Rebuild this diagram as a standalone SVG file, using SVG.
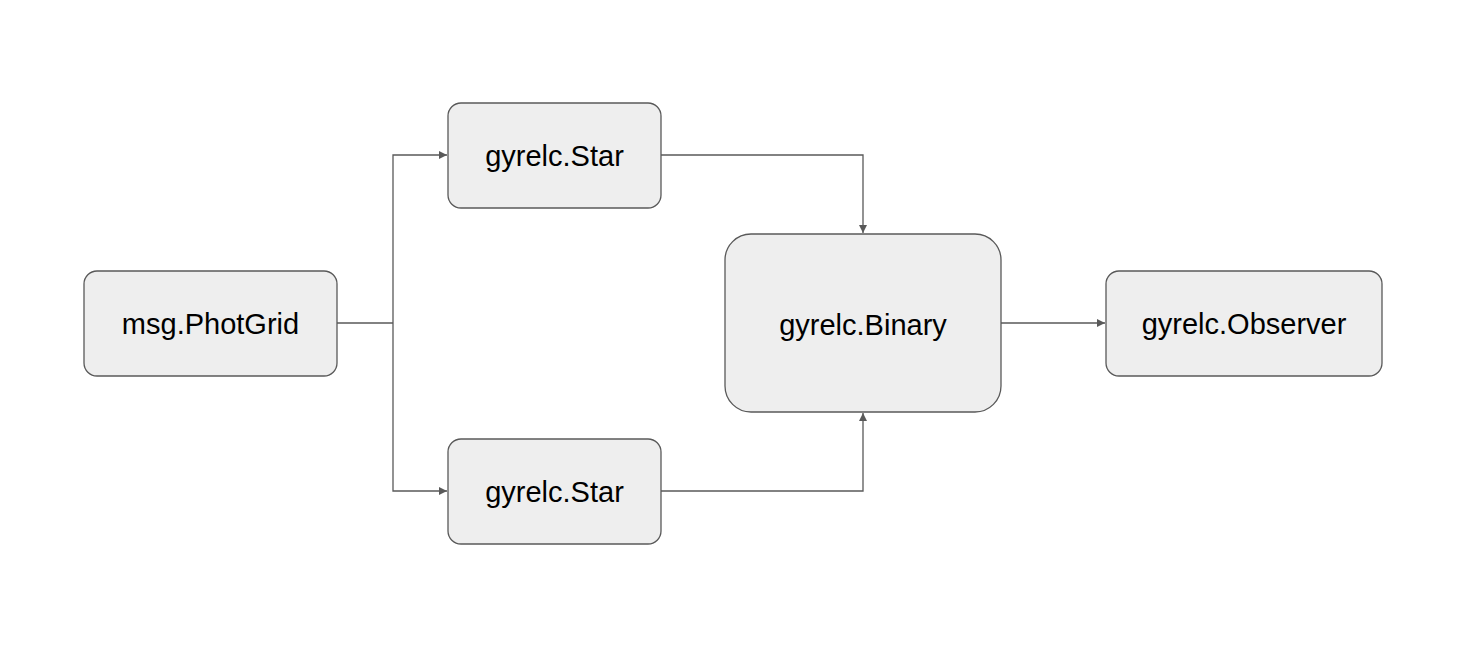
<svg xmlns="http://www.w3.org/2000/svg" width="1470" height="650" viewBox="0 0 1470 650">
<defs>
<style>
.node rect{fill:#eeeeee;stroke:#595959;stroke-width:1.3}
.node text{font-family:"Liberation Sans",Arial,sans-serif;font-size:29px;fill:#000;text-anchor:middle;dominant-baseline:central}
.edge{fill:none;stroke:#595959;stroke-width:1.3}
</style>
<marker id="arr" viewBox="0 0 10 10" refX="10" refY="5" markerWidth="10" markerHeight="8" markerUnits="userSpaceOnUse" orient="auto">
<path d="M0,0 L10,5 L0,10 z" fill="#595959"/>
</marker>
</defs>
<rect width="1470" height="650" fill="#ffffff"/>
<g id="connectors">
<path class="edge" d="M337,323 H393"/>
<path class="edge" d="M393,323 V155 H447" marker-end="url(#arr)"/>
<path class="edge" d="M393,323 V491 H447" marker-end="url(#arr)"/>
<path class="edge" d="M661,155 H863 V233" marker-end="url(#arr)"/>
<path class="edge" d="M661,491 H863 V413" marker-end="url(#arr)"/>
<path class="edge" d="M1001,323 H1105" marker-end="url(#arr)"/>
</g>
<g id="photgrid" class="node">
<rect x="84" y="271" width="253" height="105" rx="13"/>
<text x="210.5" y="324">msg.PhotGrid</text>
</g>
<g id="star1" class="node">
<rect x="448" y="103" width="213" height="105" rx="13"/>
<text x="554.5" y="156">gyrelc.Star</text>
</g>
<g id="star2" class="node">
<rect x="448" y="439" width="213" height="105" rx="13"/>
<text x="554.5" y="492">gyrelc.Star</text>
</g>
<g id="binary" class="node">
<rect x="725" y="234" width="276" height="178" rx="26"/>
<text x="863" y="325">gyrelc.Binary</text>
</g>
<g id="observer" class="node">
<rect x="1106" y="271" width="276" height="105" rx="13"/>
<text x="1244" y="324">gyrelc.Observer</text>
</g>
</svg>
